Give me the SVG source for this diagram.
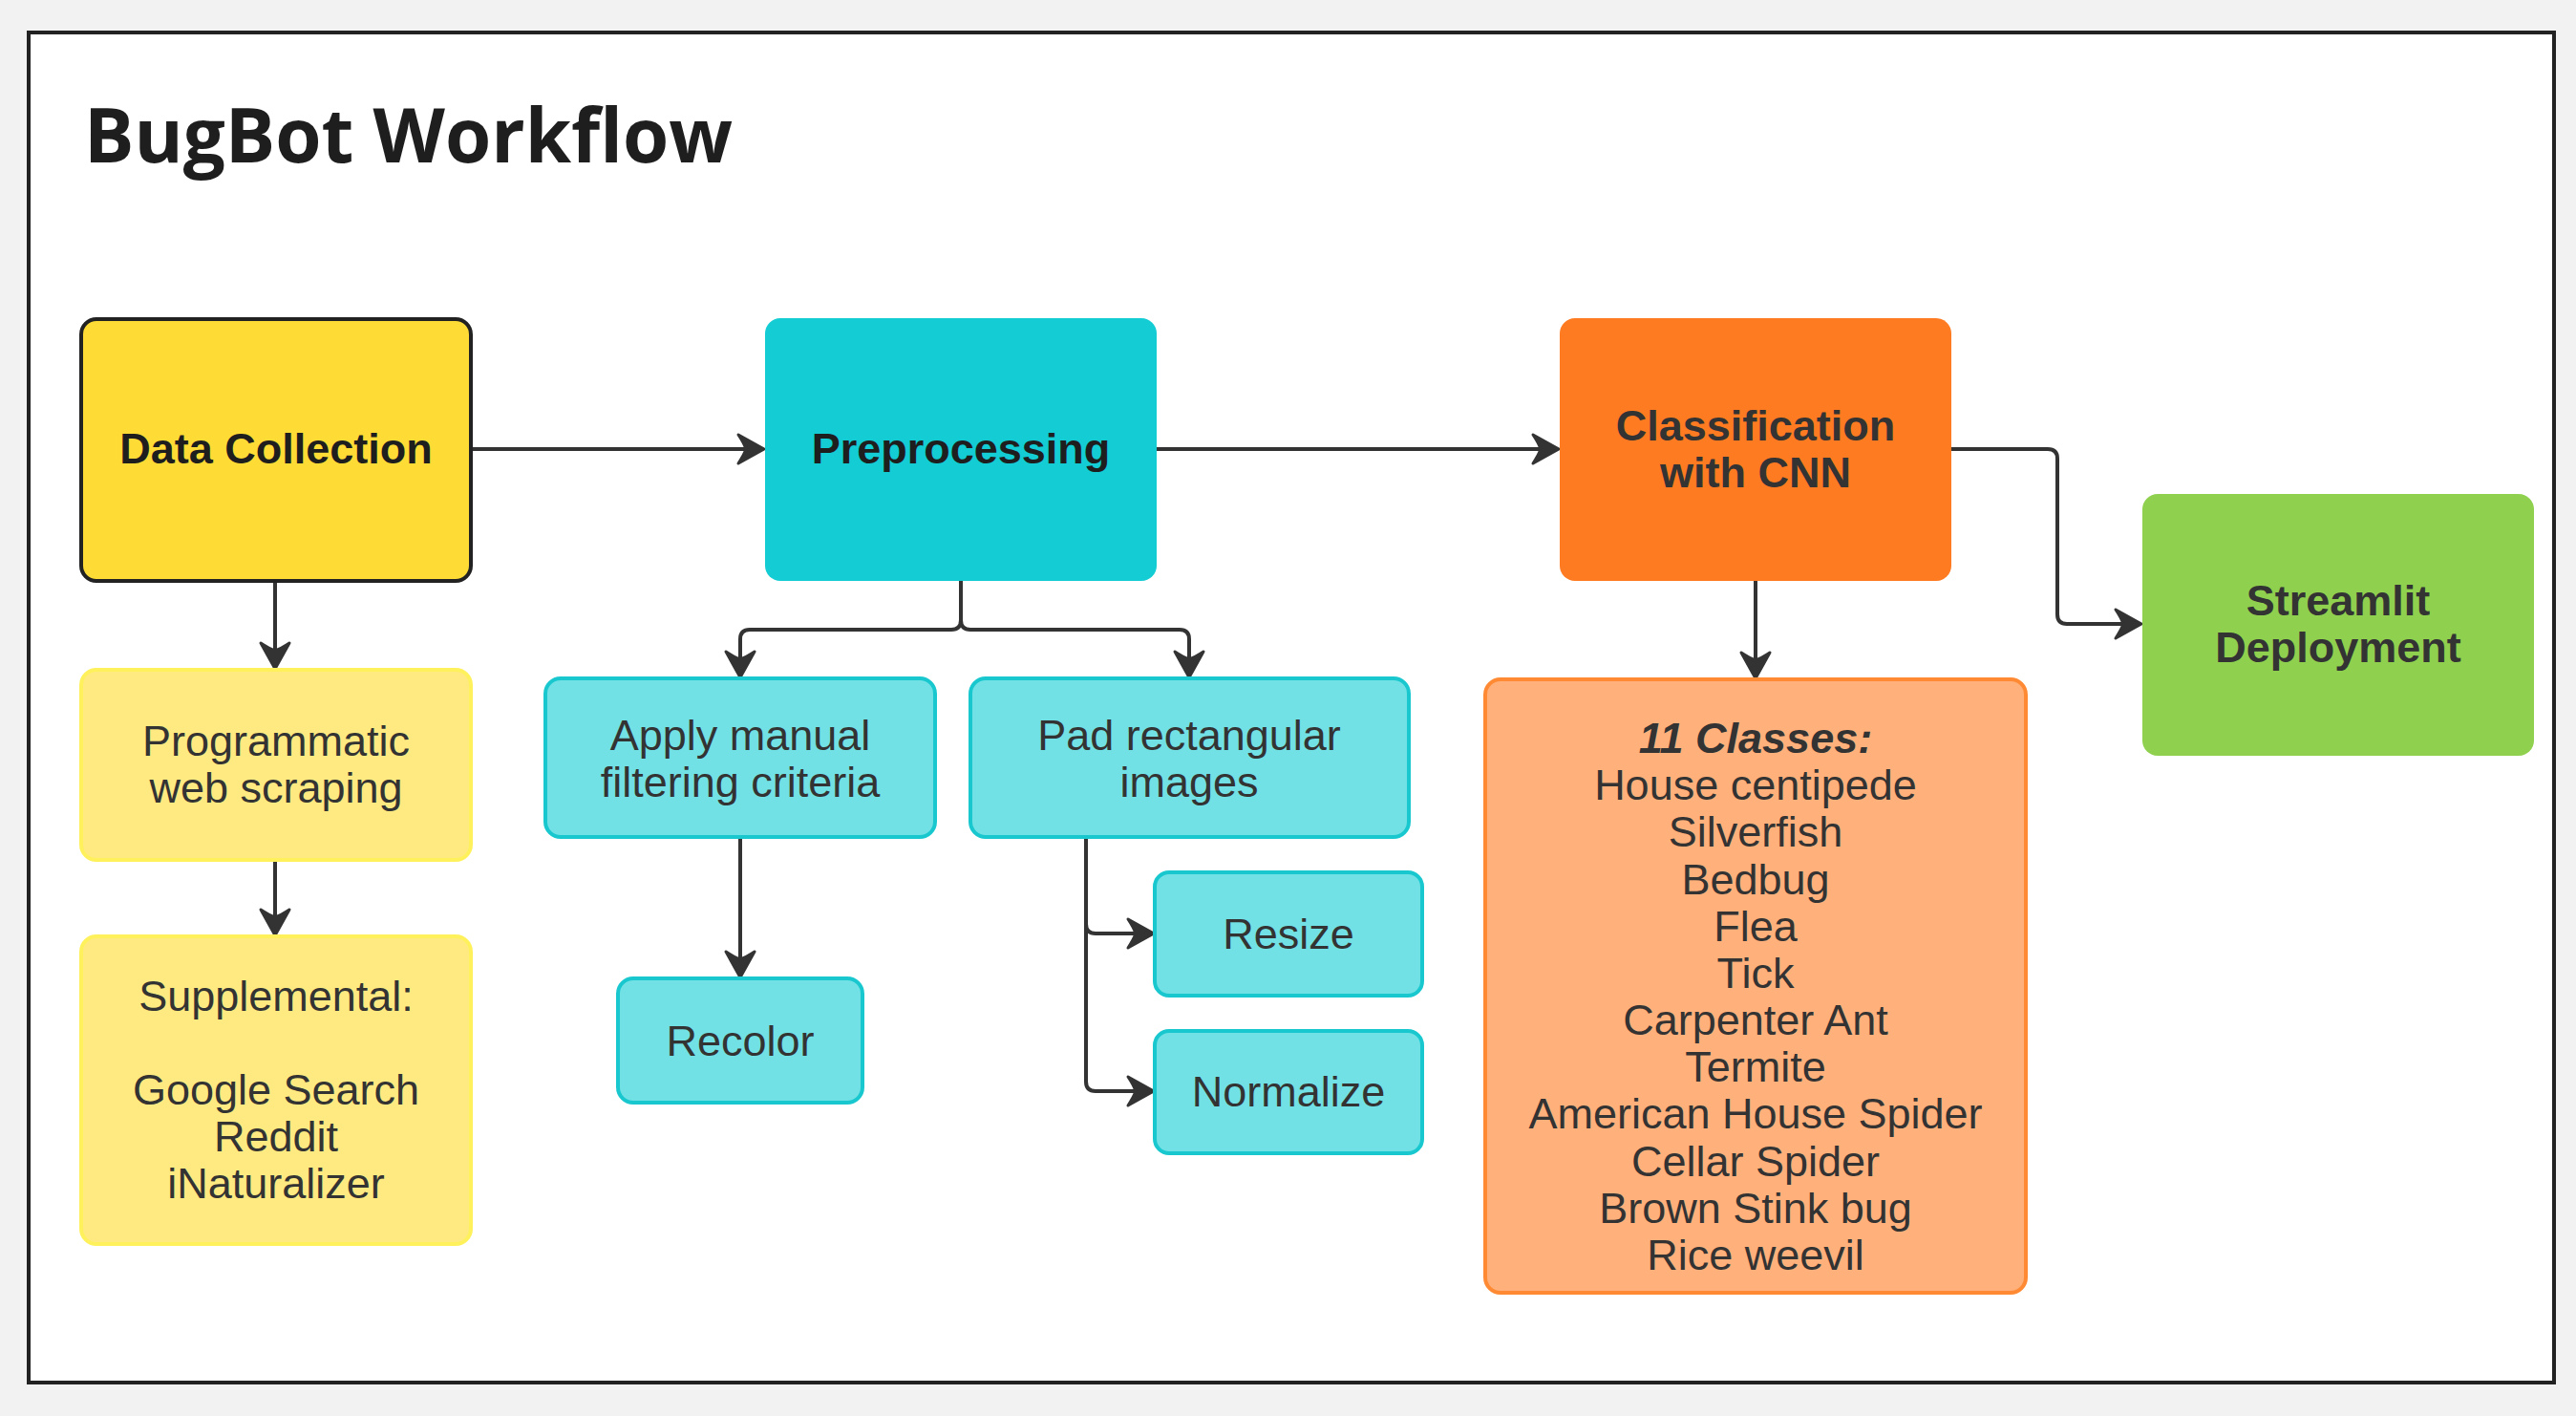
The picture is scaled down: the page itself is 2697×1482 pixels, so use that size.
<svg xmlns="http://www.w3.org/2000/svg" width="2697" height="1482" viewBox="0 0 2697 1482">
<style>
.t{font-family:"Liberation Sans",Arial,sans-serif;font-size:45px;fill:#333;text-anchor:middle}
.b{font-weight:bold}
.dk{fill:#1e1e1e}
.title{font-family:"Open Sans","Liberation Sans",sans-serif;font-weight:bold;font-size:78px;fill:#1e1e1e}
.c{fill:none;stroke:#333;stroke-width:4}
.yl{fill:#FEEA80;stroke:#FFF15C;stroke-width:4}
.cy{fill:#72E1E5;stroke:#19C8CF;stroke-width:4}
</style>
<defs>
<marker id="ah" markerUnits="userSpaceOnUse" orient="auto" markerWidth="40" markerHeight="40" refX="0" refY="0" viewBox="-32 -20 36 40" overflow="visible">
<path d="M1,0 L-26,-15 Q-20,-6 -18,0 Q-20,6 -26,15 Z" fill="#333" stroke="#333" stroke-width="3" stroke-linejoin="round"/>
</marker>
</defs>
<rect x="0" y="0" width="2697" height="1482" fill="#F2F2F2"/>
<rect x="30" y="34" width="2644" height="1413" fill="#fff" stroke="#222" stroke-width="4"/>
<text class="title" x="88" y="170">BugBot Workflow</text>

<g id="connectors">
<path class="c" marker-end="url(#ah)" d="M493,470 H799"/>
<path class="c" marker-end="url(#ah)" d="M1211,470 H1631"/>
<path class="c" marker-end="url(#ah)" d="M2043,470 H2144 Q2154,470 2154,480 V643 Q2154,653 2164,653 H2241"/>
<path class="c" marker-end="url(#ah)" d="M1838,608 V709"/>
<path class="c" marker-end="url(#ah)" d="M288,608 V699"/>
<path class="c" marker-end="url(#ah)" d="M288,900 V978"/>
<path class="c" marker-end="url(#ah)" d="M1006,608 V649 Q1006,659 996,659 H785 Q775,659 775,669 V708"/>
<path class="c" marker-end="url(#ah)" d="M1006,608 V649 Q1006,659 1016,659 H1235 Q1245,659 1245,669 V708"/>
<path class="c" marker-end="url(#ah)" d="M775,876 V1022"/>
<path class="c" marker-end="url(#ah)" d="M1137,876 V967 Q1137,977 1147,977 H1207"/>
<path class="c" marker-end="url(#ah)" d="M1137,876 V1132 Q1137,1142 1147,1142 H1207"/>
</g>

<g id="data-collection">
<rect x="85" y="334" width="408" height="274" rx="16" fill="#FEDC35" stroke="#222" stroke-width="4"/>
<text class="t b dk" x="289" y="485">Data Collection</text>
</g>
<g id="programmatic">
<rect class="yl" x="85" y="701" width="408" height="199" rx="16"/>
<text class="t" x="289" y="791">Programmatic</text>
<text class="t" x="289" y="840">web scraping</text>
</g>
<g id="supplemental">
<rect class="yl" x="85" y="980" width="408" height="322" rx="16"/>
<text class="t" x="289" y="1058">Supplemental:</text>
<text class="t" x="289" y="1156">Google Search</text>
<text class="t" x="289" y="1205">Reddit</text>
<text class="t" x="289" y="1254">iNaturalizer</text>
</g>

<g id="preprocessing">
<rect x="801" y="333" width="410" height="275" rx="16" fill="#13CCD4"/>
<text class="t b dk" x="1006" y="485">Preprocessing</text>
</g>
<g id="apply-manual">
<rect class="cy" x="571" y="710" width="408" height="166" rx="16"/>
<text class="t" x="775" y="785">Apply manual</text>
<text class="t" x="775" y="834">filtering criteria</text>
</g>
<g id="pad">
<rect class="cy" x="1016" y="710" width="459" height="166" rx="16"/>
<text class="t" x="1245" y="785">Pad rectangular</text>
<text class="t" x="1245" y="834">images</text>
</g>
<g id="recolor">
<rect class="cy" x="647" y="1024" width="256" height="130" rx="16"/>
<text class="t" x="775" y="1105">Recolor</text>
</g>
<g id="resize">
<rect class="cy" x="1209" y="913" width="280" height="129" rx="15"/>
<text class="t" x="1349" y="993">Resize</text>
</g>
<g id="normalize">
<rect class="cy" x="1209" y="1079" width="280" height="128" rx="15"/>
<text class="t" x="1349" y="1158">Normalize</text>
</g>

<g id="classification">
<rect x="1633" y="333" width="410" height="275" rx="16" fill="#FF7B22"/>
<text class="t b" x="1838" y="461">Classification</text>
<text class="t b" x="1838" y="510">with CNN</text>
</g>
<g id="classes">
<rect x="1555" y="711" width="566" height="642" rx="16" fill="#FFB07B" stroke="#FF8A33" stroke-width="4"/>
<text class="t b" font-style="italic" x="1838" y="788">11 Classes:</text>
<text class="t" x="1838" y="837">House centipede</text>
<text class="t" x="1838" y="886">Silverfish</text>
<text class="t" x="1838" y="936">Bedbug</text>
<text class="t" x="1838" y="985">Flea</text>
<text class="t" x="1838" y="1034">Tick</text>
<text class="t" x="1838" y="1083">Carpenter Ant</text>
<text class="t" x="1838" y="1132">Termite</text>
<text class="t" x="1838" y="1181">American House Spider</text>
<text class="t" x="1838" y="1231">Cellar Spider</text>
<text class="t" x="1838" y="1280">Brown Stink bug</text>
<text class="t" x="1838" y="1329">Rice weevil</text>
</g>

<g id="streamlit">
<rect x="2243" y="517" width="410" height="274" rx="16" fill="#8FD14F"/>
<text class="t b" x="2448" y="644">Streamlit</text>
<text class="t b" x="2448" y="693">Deployment</text>
</g>
</svg>
